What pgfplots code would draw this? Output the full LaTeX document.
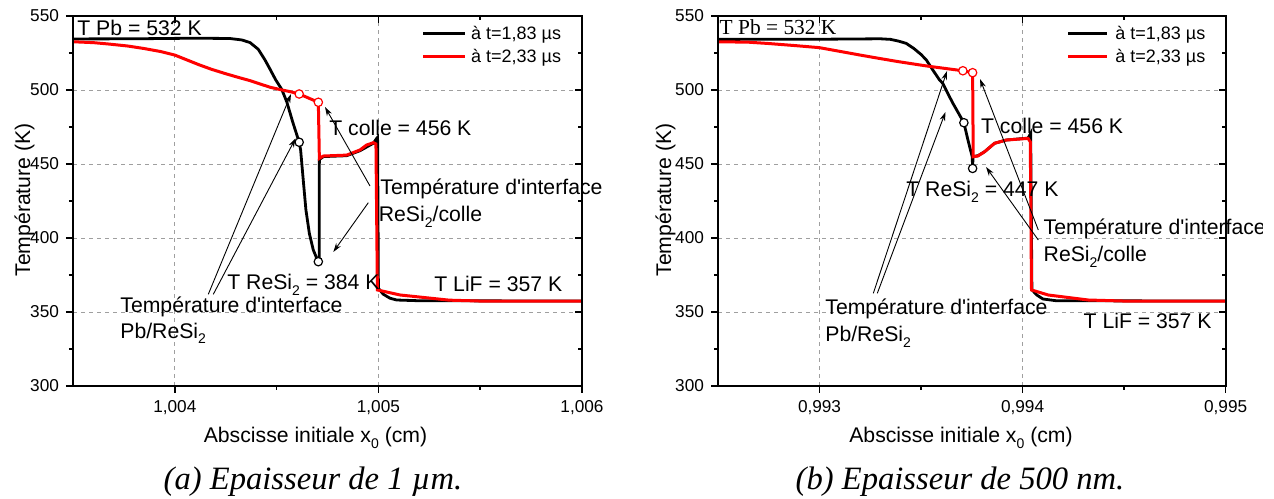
\documentclass[border=0pt]{standalone}
\usepackage{fontspec}
\setmainfont{Liberation Sans}
\newfontfamily\timesfont{Liberation Serif}
\usepackage{pgfplots}
\pgfplotsset{compat=1.18}
\usetikzlibrary{arrows.meta}
\newcommand{\sub}[1]{\raisebox{-0.5ex}{\fontsize{7}{8}\selectfont #1}}
\newcommand{\ap}{\textquotesingle}

% x values: initial abscissa offset, in micrometres (x0 - 1 cm for panel a, x0 - 0.99 cm for panel b)
\pgfplotstableread{
x T
35.00 534.5
38.00 534.6
41.00 535.0
42.70 534.8
43.30 533.8
43.70 532.0
44.10 527.5
44.43 520.3
44.68 514.0
44.95 507.0
45.25 500.5
45.50 492.0
45.80 478.0
46.11 464.7
46.18 459.5
46.31 439.0
46.44 419.0
46.61 403.0
46.80 392.0
46.97 386.3
47.05 384.0
47.09 385.0
47.10 453.0
47.30 455.0
48.44 455.6
49.10 459.0
49.75 464.0
49.90 467.0
49.96 468.0
50.00 366.0
50.24 362.0
50.57 359.3
50.90 358.1
52.00 357.6
60.00 357.4
}\blackA
\pgfplotstableread{
x T
35.00 532.6
36.00 532.0
36.80 531.0
37.70 529.7
38.50 528.0
39.30 526.0
40.00 523.6
40.60 520.3
41.20 517.0
41.80 514.0
42.50 511.0
43.10 508.6
43.70 506.3
44.20 504.0
44.70 501.8
45.20 500.2
45.66 498.9
46.11 497.3
47.05 491.7
47.10 453.8
47.30 455.4
48.44 456.0
49.10 459.5
49.42 462.8
49.75 464.4
49.88 463.5
49.95 364.9
51.06 361.5
53.48 358.0
55.00 357.4
60.00 357.4
}\redA
\pgfplotstableread{
x T
25.00 534.2
30.00 534.3
33.00 534.6
33.50 534.2
33.90 533.0
34.27 531.5
34.65 528.0
35.00 524.0
35.26 520.3
35.58 513.5
35.91 506.8
36.07 504.5
36.40 495.5
36.57 491.0
37.11 477.9
37.31 466.2
37.52 454.9
37.54 447.0
37.56 455.0
37.80 455.6
38.13 458.3
38.62 464.0
39.20 466.2
40.27 467.5
40.40 470.7
40.46 365.0
40.70 361.5
41.00 358.8
41.66 357.6
50.00 357.4
}\blackB
\pgfplotstableread{
x T
25.00 532.6
26.50 532.3
27.50 531.4
28.80 530.0
30.00 528.6
31.00 526.1
32.00 523.6
33.00 521.2
33.91 519.1
35.00 516.8
35.56 515.7
37.06 513.0
37.54 511.7
37.57 454.9
37.80 455.4
38.13 458.3
38.62 464.0
39.20 466.2
40.27 467.3
40.38 465.0
40.44 364.9
41.26 361.5
43.24 358.1
45.00 357.4
50.00 357.4
}\redB

\pgfplotsset{
  panel/.style={
    scale only axis, anchor=south west,
    ymin=300, ymax=550,
    ytick={300,350,400,450,500,550},
    minor x tick num=1, minor y tick num=1,
    axis line style={line width=1pt},
    tick style={line width=0.8pt, black},
    major tick length=3.5pt, minor tick length=2pt,
  },
  mainpanel/.style={
    panel,
    yticklabels={300,350,400,450,500,550},
    tick align=outside, xtick pos=left, ytick pos=left,
    grid=major,
    major grid style={line width=0.4pt, gray!75, dash pattern=on 2pt off 2pt},
    ticklabel style={font=\fontsize{8.6}{10}\selectfont},
  },
  mirror/.style={
    panel,
    tick align=inside, xtick pos=right, ytick pos=right,
    xticklabels={}, yticklabels={},
  },
}

\begin{document}
\begin{tikzpicture}
\useasboundingbox (0,0) rectangle (637pt,249pt);

% ---------------- panel (a)
\begin{axis}[mainpanel, at={(36.5pt,56pt)}, width=254.5pt, height=185pt,
  xmin=35, xmax=60, xtick={40,50,60}, xticklabels={{1,004},{1,005},{1,006}}]
  \addplot[black, line width=1.4pt] table[x=x,y=T] {\blackA};
  \addplot[red, line width=1.5pt] table[x=x,y=T] {\redA};
  \addplot[only marks, mark=*, mark size=2.1pt, mark options={fill=white, draw=black, line width=0.6pt}]
     coordinates {(46.11,464.7) (47.05,384.0)};
  \addplot[only marks, mark=*, mark size=2.1pt, mark options={fill=white, draw=red, line width=0.6pt}]
     coordinates {(46.11,497.3) (47.05,491.7)};
\end{axis}
\begin{axis}[mirror, at={(36.5pt,56pt)}, width=254.5pt, height=185pt,
  xmin=35, xmax=60, xtick={40,50,60}]
\end{axis}

% ---------------- panel (b)
\begin{axis}[mainpanel, at={(359pt,56pt)}, width=253.8pt, height=185pt,
  xmin=25, xmax=50, xtick={30,40,50}, xticklabels={{0,993},{0,994},{0,995}}]
  \addplot[black, line width=1.4pt] table[x=x,y=T] {\blackB};
  \addplot[red, line width=1.5pt] table[x=x,y=T] {\redB};
  \addplot[only marks, mark=*, mark size=2.1pt, mark options={fill=white, draw=black, line width=0.6pt}]
     coordinates {(37.11,477.9) (37.54,447.0)};
  \addplot[only marks, mark=*, mark size=2.1pt, mark options={fill=white, draw=red, line width=0.6pt}]
     coordinates {(37.06,513.0) (37.54,511.7)};
\end{axis}
\begin{axis}[mirror, at={(359pt,56pt)}, width=253.8pt, height=185pt,
  xmin=25, xmax=50, xtick={30,40,50}]
\end{axis}

% ---------------- annotations (pixel frame of the figure)
\begin{scope}[x=0.5pt, y=-0.5pt, yshift=249pt,
  ann/.style={inner sep=0pt, anchor=base west, font=\fontsize{10.6}{12}\selectfont},
  arr/.style={line width=0.45pt, -{Stealth[length=4.5pt, width=2.8pt]}}]
  % axis labels
  \node[inner sep=0pt, anchor=base, font=\fontsize{10.6}{12}\selectfont] at (315.5,443) {Abscisse initiale x\sub{0} (cm)};
  \node[inner sep=0pt, anchor=base, font=\fontsize{10.6}{12}\selectfont] at (961,443) {Abscisse initiale x\sub{0} (cm)};
  \node[inner sep=0pt, anchor=base, rotate=90, font=\fontsize{10.6}{12}\selectfont] at (30,200) {Température (K)};
  \node[inner sep=0pt, anchor=base, rotate=90, font=\fontsize{10.6}{12}\selectfont] at (671,200) {Température (K)};
  % captions
  \node[inner sep=0pt, anchor=base, font=\timesfont\itshape\fontsize{16.3}{18}\selectfont] at (313,489) {(a) Epaisseur de 1 µm.};
  \node[inner sep=0pt, anchor=base, font=\timesfont\itshape\fontsize{16.3}{18}\selectfont] at (960,489) {(b) Epaisseur de 500 nm.};

  % legends
  \draw[black, line width=1.4pt] (423.3,33.3) -- (465,33.3);
  \draw[red, line width=1.5pt] (423.3,56.7) -- (465,56.7);
  \node[inner sep=0pt, anchor=base west, font=\fontsize{9}{10}\selectfont] at (470.7,39.3) {à t=1,83 µs};
  \node[inner sep=0pt, anchor=base west, font=\fontsize{9}{10}\selectfont] at (470.7,62.8) {à t=2,33 µs};
  \draw[black, line width=1.4pt] (1068.3,33.3) -- (1106.7,33.3);
  \draw[red, line width=1.5pt] (1068.3,56.7) -- (1106.7,56.7);
  \node[inner sep=0pt, anchor=base west, font=\fontsize{9}{10}\selectfont] at (1115,39.3) {à t=1,83 µs};
  \node[inner sep=0pt, anchor=base west, font=\fontsize{9}{10}\selectfont] at (1115,62.8) {à t=2,33 µs};

  % panel (a) texts
  \node[ann] at (77,35.5) {T Pb = 532 K};
  \node[ann] at (329,136) {T colle = 456 K};
  \node[ann] at (380,195) {Température d\ap interface};
  \node[ann] at (378.5,221.7) {ReSi\sub{2}/colle};
  \node[ann] at (227,290) {T ReSi\sub{2} = 384 K};
  \node[ann] at (120,312.7) {Température d\ap interface};
  \node[ann] at (120,338.3) {Pb/ReSi\sub{2}};
  \node[ann] at (434,291.7) {T LiF = 357 K};
  \draw[arr] (370,186) -- (325,107);
  \draw[arr] (368.3,202.7) -- (333.3,252);
  \draw[arr] (208.3,294.3) -- (291,94);
  \draw[arr] (213.3,294.3) -- (295.5,138.5);

  % panel (b) texts
  \node[ann, font=\timesfont\fontsize{10.7}{12}\selectfont] at (719.3,35) {T Pb = 532 K};
  \node[ann] at (980.7,133.3) {T colle = 456 K};
  \node[ann] at (906,196.7) {T ReSi\sub{2} = 447 K};
  \begin{scope}
    \clip (1000,200) rectangle (1262,250);
    \node[ann] at (1043.3,235) {Température d\ap interface};
  \end{scope}
  \node[ann] at (1043.3,261.7) {ReSi\sub{2}/colle};
  \node[ann] at (825,315) {Température d\ap interface};
  \node[ann] at (825,341.7) {Pb/ReSi\sub{2}};
  \node[ann] at (1083.3,328.3) {T LiF = 357 K};
  \draw[arr] (1038.3,230) -- (980,79);
  \draw[arr] (1038.3,240) -- (986,167);
  \draw[arr] (873.3,293.3) -- (947,71);
  \draw[arr] (877.3,293.3) -- (945.5,112);
\end{scope}
\end{tikzpicture}
\end{document}
